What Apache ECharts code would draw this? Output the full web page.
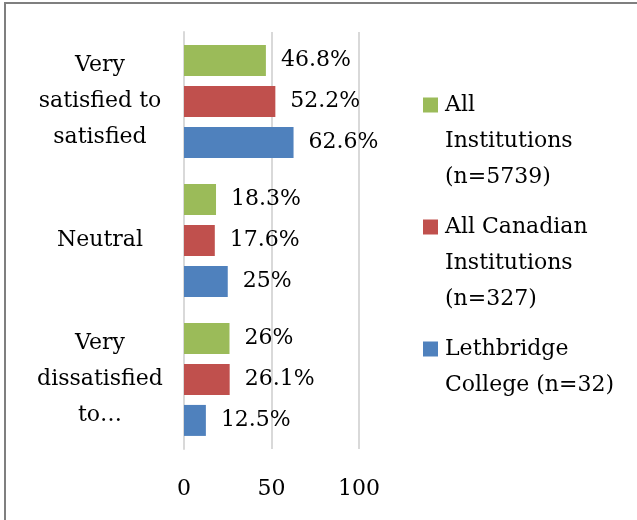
<!DOCTYPE html>
<html>
<head>
<meta charset="utf-8">
<script src="https://cdn.jsdelivr.net/npm/echarts@6/dist/echarts.min.js"></script>
<style>
  html, body { margin: 0; padding: 0; background: #fff; }
  #chart { width: 637px; height: 520px; }
</style>
</head>
<body>
<div id="chart"></div>
<script>
// categories, top to bottom
const categories = ['Very\nsatisfied to\nsatisfied', 'Neutral', 'Very\ndissatisfied\nto…']
// series names and values (percent)
const seriesNames = ['All Institutions (n=5739)', 'All Canadian Institutions (n=327)', 'Lethbridge College (n=32)']
const legendLabels = ['All\nInstitutions\n(n=5739)', 'All Canadian\nInstitutions\n(n=327)', 'Lethbridge\nCollege (n=32)']
const allInstitutions = [46.8, 18.3, 26]
const allCanadian = [52.2, 17.6, 26.1]
const lethbridge = [62.6, 25, 12.5]
const xTicks = [0, 50, 100]

const colors = ['#9BBB59', '#C0504D', '#4F81BD']
const values = [allInstitutions, allCanadian, lethbridge]
const font = 'DejaVu Serif'
const lineH = 36

// legend text is centred on the icon, so pad with blank lines (2 on top)
// to put the icon beside the first line, and keep every item 5 lines tall
function padLegend(label) {
  const n = label.split('\n').length
  const top = 2
  const bottom = 5 - top - n
  return '\n'.repeat(top) + label + '\n'.repeat(bottom)
}

const chart = echarts.init(document.getElementById('chart'))

const option = {
  animation: false,
  textStyle: { fontFamily: font },
  graphic: [{
    type: 'rect',
    shape: { x: 5, y: 3, width: 900, height: 900 },
    style: { fill: 'none', stroke: '#7f7f7f', lineWidth: 2 },
    silent: true
  }],
  grid: { left: 184, right: 278, top: 32, bottom: 71 },
  legend: {
    orient: 'vertical',
    left: 423,
    top: 15,
    padding: 0,
    itemGap: -58,
    itemWidth: 15,
    itemHeight: 15,
    icon: 'rect',
    data: seriesNames,
    formatter: name => padLegend(legendLabels[seriesNames.indexOf(name)]),
    textStyle: { fontFamily: font, fontSize: 22, color: '#000', lineHeight: lineH, padding: [0, 0, 0, 2] }
  },
  xAxis: {
    type: 'value',
    min: xTicks[0],
    max: xTicks[xTicks.length - 1],
    interval: xTicks[1] - xTicks[0],
    axisLine: { show: false },
    axisTick: { show: false },
    splitLine: { show: true, lineStyle: { color: '#d9d9d9', width: 2 } },
    axisLabel: { fontFamily: font, fontSize: 22, color: '#000', margin: 29 }
  },
  yAxis: {
    type: 'category',
    inverse: true,
    data: categories,
    axisLine: { show: true, lineStyle: { color: '#d9d9d9', width: 2 } },
    axisTick: { show: false },
    axisLabel: {
      fontFamily: font, fontSize: 22, color: '#000',
      align: 'center', margin: 84, lineHeight: lineH
    }
  },
  series: seriesNames.map((n, i) => ({
    name: n,
    type: 'bar',
    data: values[i],
    barWidth: 31,
    barGap: '32%',
    itemStyle: { color: colors[i] },
    label: {
      show: true,
      position: 'right',
      distance: 15,
      fontFamily: font,
      fontSize: 22,
      color: '#000',
      formatter: p => p.value + '%'
    }
  }))
}

chart.setOption(option)
</script>
</body>
</html>
